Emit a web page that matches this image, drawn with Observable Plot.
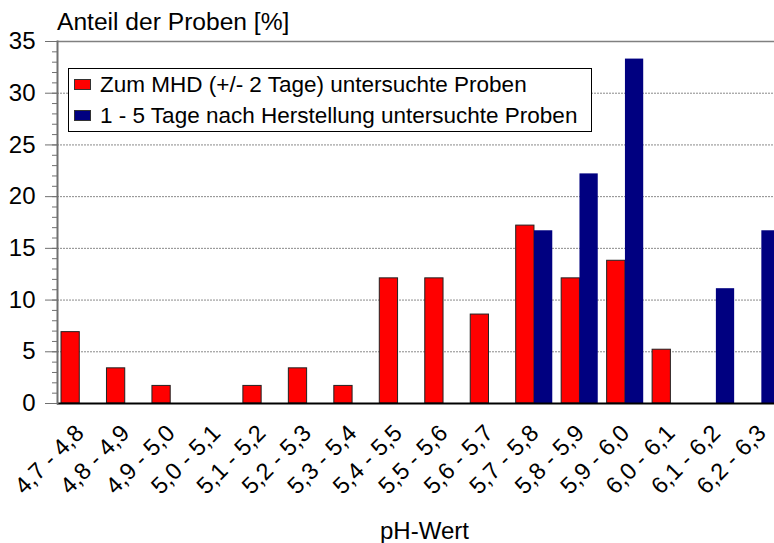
<!DOCTYPE html>
<html>
<head>
<meta charset="utf-8">
<script src="https://cdn.jsdelivr.net/npm/d3@7"></script>
<script src="https://cdn.jsdelivr.net/npm/@observablehq/plot@0.6"></script>
<style>
  html, body { margin: 0; padding: 0; background: white; }
  body { font-family: "Liberation Sans", Arial, sans-serif; }
  #wrap { position: relative; width: 774px; height: 543px; overflow: hidden; }
  #title { position: absolute; left: 57px; top: 7px; font-size: 24.6px; line-height: 30px; white-space: nowrap; }
  #xlabel { position: absolute; left: 380px; top: 517px; font-size: 24px; line-height: 28px; white-space: nowrap; }
  #legend { position: absolute; left: 68px; top: 68px; width: 522px; height: 62px; border: 1px solid black; background: white; }
  .item { position: absolute; left: 5px; height: 31px; font-size: 22.5px; line-height: 31px; white-space: nowrap; display: flex; align-items: center; }
  .sw { display: inline-block; width: 15px; height: 9px; border: 1px solid #333; margin-right: 9px; }
</style>
</head>
<body>
<div id="wrap">
  <div id="chart"></div>
  <div id="title"></div>
  <div id="legend"></div>
  <div id="xlabel"></div>
</div>
<script>
const categories = ["4,7 - 4,8", "4,8 - 4,9", "4,9 - 5,0", "5,0 - 5,1", "5,1 - 5,2", "5,2 - 5,3", "5,3 - 5,4", "5,4 - 5,5", "5,5 - 5,6", "5,6 - 5,7", "5,7 - 5,8", "5,8 - 5,9", "5,9 - 6,0", "6,0 - 6,1", "6,1 - 6,2", "6,2 - 6,3"];
const mhd = [6.9, 3.4, 1.7, 0, 1.7, 3.4, 1.7, 12.1, 12.1, 8.6, 17.2, 12.1, 13.8, 5.2, 0, 0];
const fresh = [0, 0, 0, 0, 0, 0, 0, 0, 0, 0, 16.7, 22.2, 33.3, 0, 11.1, 16.7];
const seriesNames = ["Zum MHD (+/- 2 Tage) untersuchte Proben", "1 - 5 Tage nach Herstellung untersuchte Proben"];
const seriesColors = ["#ff0000", "#000080"];
const majorTicks = [0, 5, 10, 15, 20, 25, 30, 35];
const minorTicks = d3.range(0, 36);
const gridValues = [5, 10, 15, 20, 25, 30];
const titleText = "Anteil der Proben [%]";
const xLabelText = "pH-Wert";

const data = categories.map((c, i) => ({cat: c, mhd: mhd[i], fresh: fresh[i]}));

const step = 45.47;
const chart = Plot.plot({
  width: 774,
  height: 543,
  marginLeft: 57,
  marginRight: 0,
  marginTop: 41,
  marginBottom: 140,
  style: {fontFamily: "'Liberation Sans', Arial, sans-serif", background: "white", color: "black"},
  x: {domain: categories, range: [57, 57 + step * categories.length], padding: 0, round: false, axis: null},
  y: {domain: [0, 35]},
  marks: [
    Plot.ruleY(gridValues, {stroke: "#8a8a8a", strokeDasharray: "2,1", strokeWidth: 1}),
    Plot.barY(data.filter(d => d.mhd > 0), {x: "cat", y: "mhd", fill: seriesColors[0], stroke: "#222", strokeWidth: 1, insetLeft: 4, insetRight: 23.2}),
    Plot.barY(data.filter(d => d.fresh > 0), {x: "cat", y: "fresh", fill: seriesColors[1], insetLeft: 22.3, insetRight: 4.9}),
    Plot.ruleY([35], {stroke: "#808080", strokeWidth: 1.5}),
    Plot.ruleY([0], {stroke: "black", strokeWidth: 2}),
    Plot.axisY({ticks: minorTicks, tickSize: 5, tickFormat: () => "", stroke: "#707070"}),
    Plot.axisY({ticks: majorTicks, tickSize: 12, tickPadding: 10, fontSize: 24, stroke: "#707070", fill: "black", label: null}),
    Plot.frame({anchor: "left", stroke: "#707070", strokeWidth: 2}),
    Plot.text(categories, {x: d => d, frameAnchor: "bottom", rotate: -45, textAnchor: "end", lineAnchor: "bottom", fontSize: 23.5, dx: 5, dy: 31, fill: "black"})
  ]
});
document.getElementById("chart").appendChild(chart);

document.getElementById("title").textContent = titleText;
document.getElementById("xlabel").textContent = xLabelText;
const legend = document.getElementById("legend");
seriesNames.forEach((name, i) => {
  const item = document.createElement("div");
  item.className = "item";
  item.style.top = (0 + i * 31) + "px";
  const sw = document.createElement("span");
  sw.className = "sw";
  sw.style.background = seriesColors[i];
  item.appendChild(sw);
  item.appendChild(document.createTextNode(name));
  legend.appendChild(item);
});
</script>
</body>
</html>
